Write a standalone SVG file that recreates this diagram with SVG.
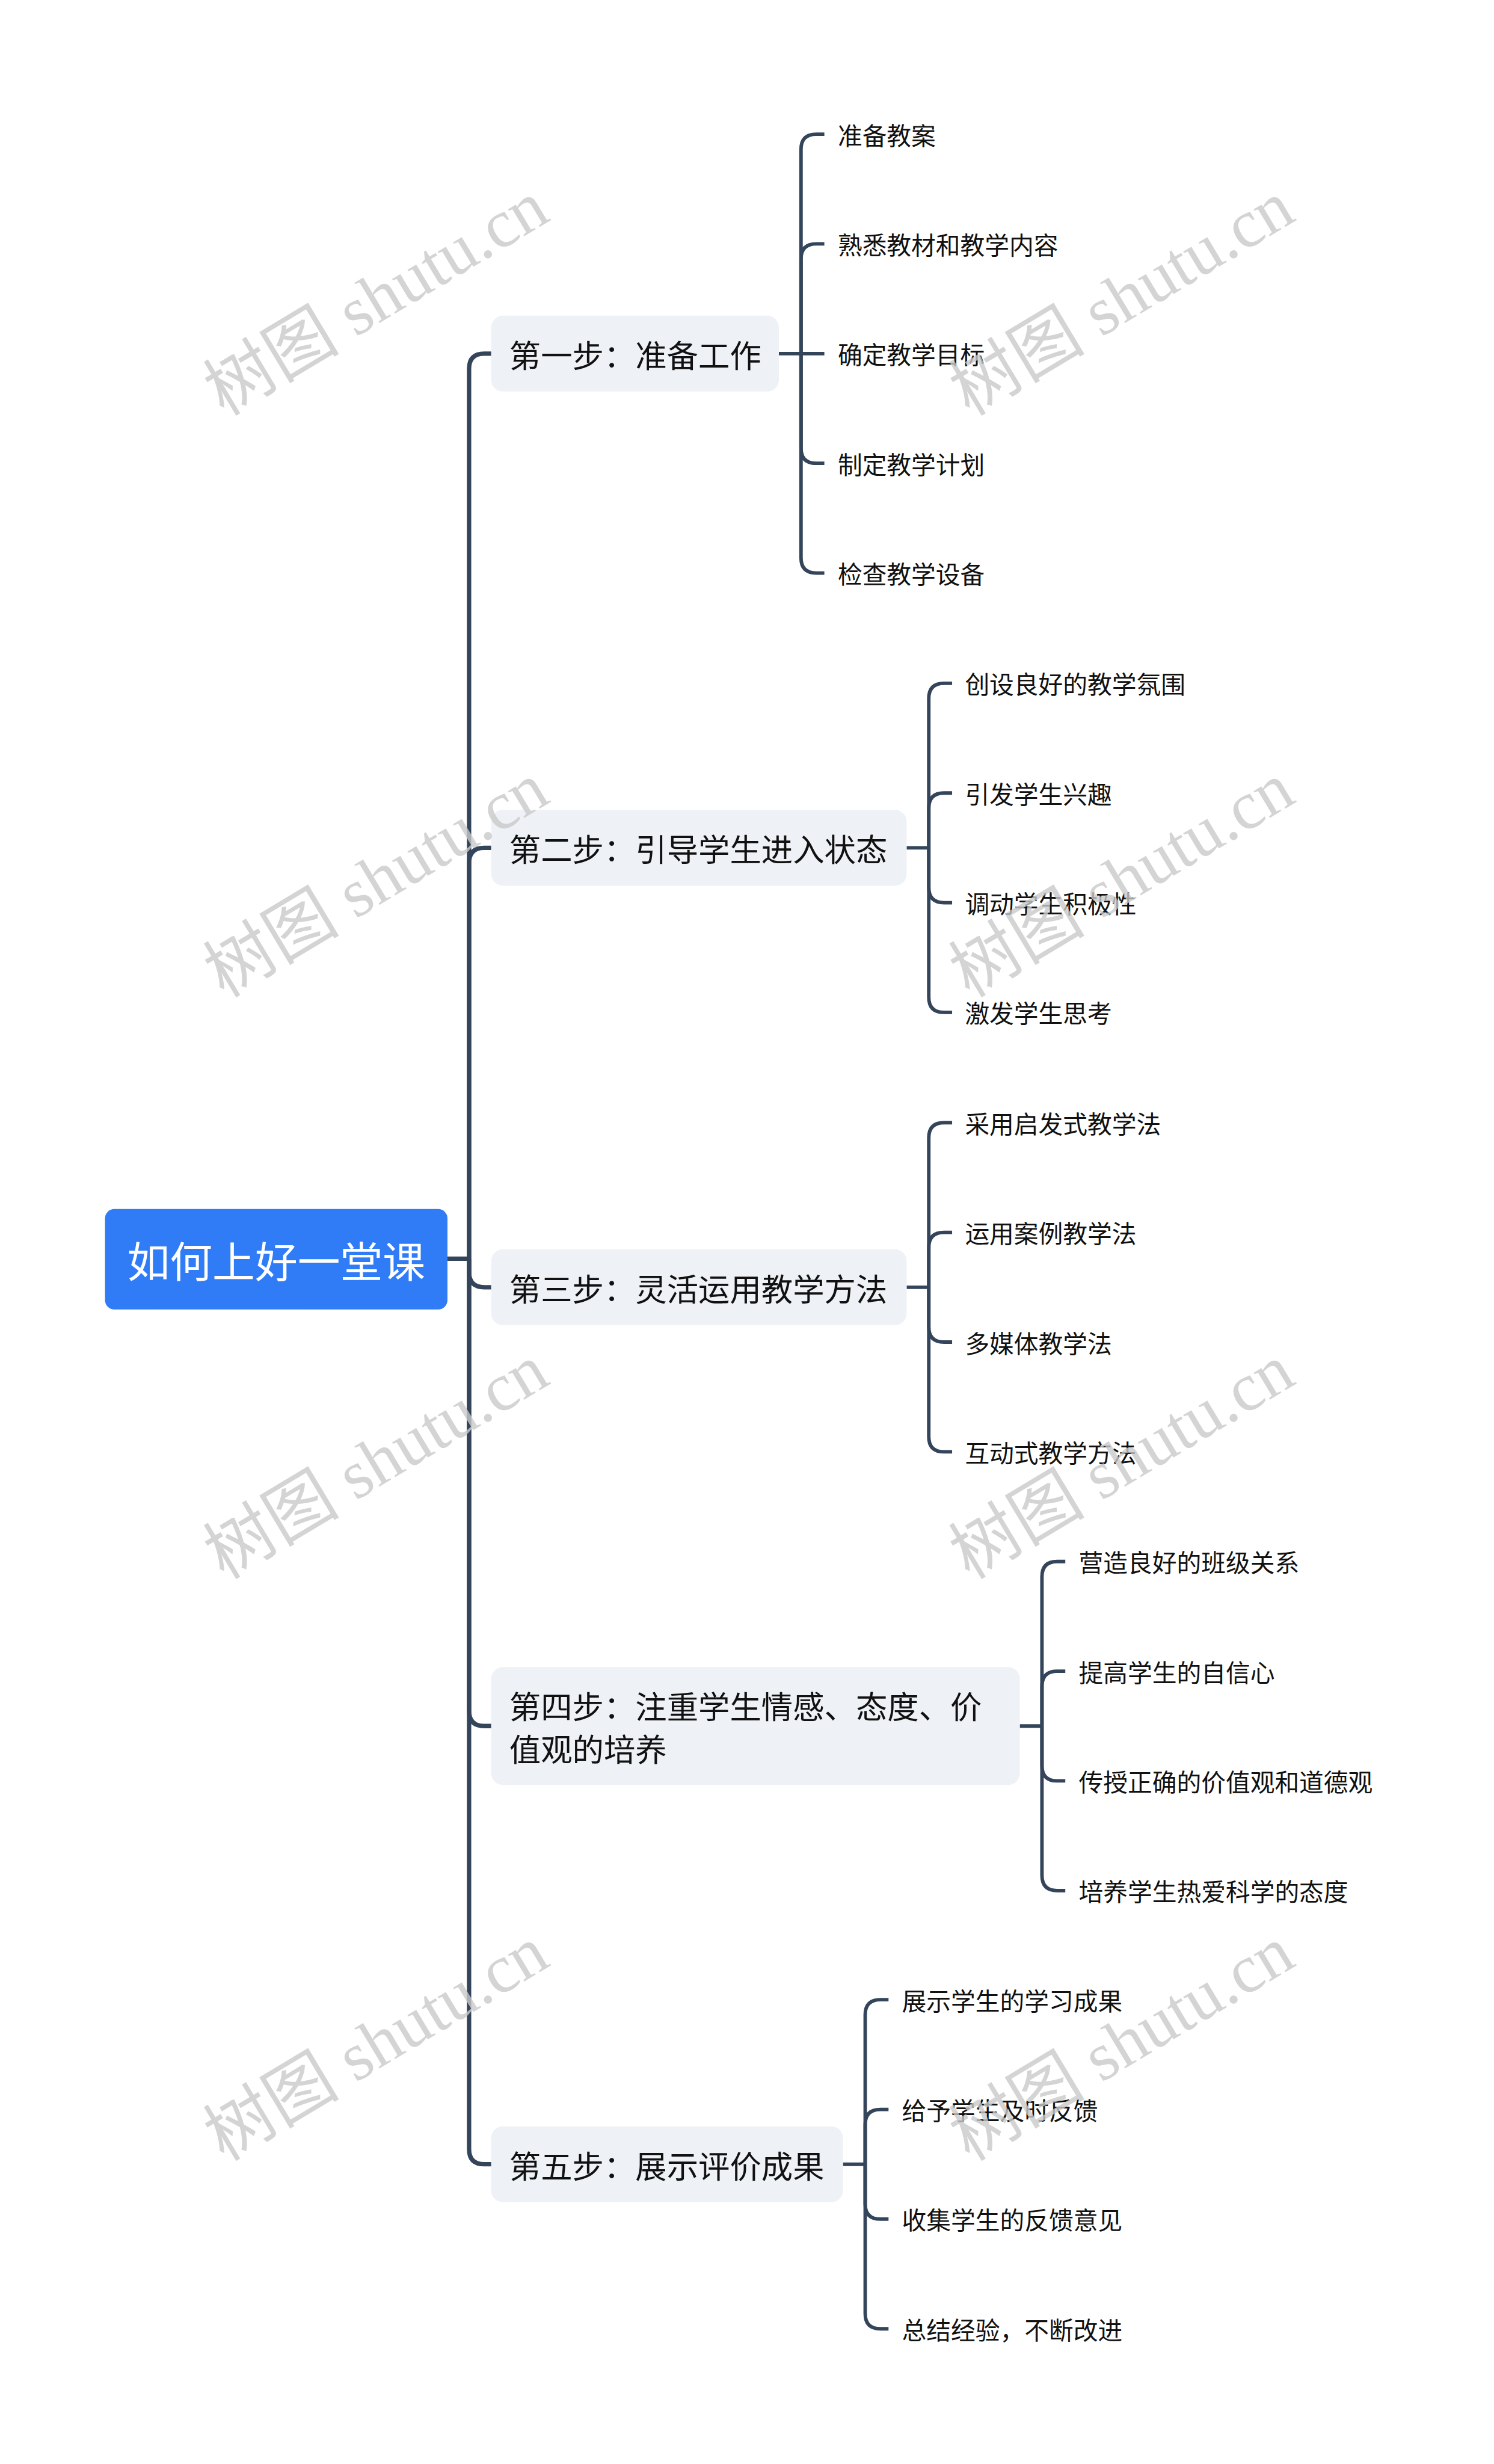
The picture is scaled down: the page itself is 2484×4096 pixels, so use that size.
<svg xmlns="http://www.w3.org/2000/svg" width="2484" height="4096" viewBox="0 0 2484 4096">
<style>
.cn{fill:none;stroke:#34455b;stroke-linecap:butt;stroke-linejoin:round}
.tr{stroke-width:7.5}
.ch{stroke-width:6}
.step{fill:#eef1f5}
.st{font-family:"Noto Sans CJK SC","Noto Sans",sans-serif;font-size:54px;fill:#111;dominant-baseline:central}
.lf{font-family:"Noto Sans CJK SC","Noto Sans",sans-serif;font-size:42px;fill:#111;dominant-baseline:central}
.wm{font-family:"Liberation Serif","Noto Sans CJK SC",serif;font-size:117px;fill:#c9c9c9;fill-opacity:0.8;text-anchor:middle}
</style>
<rect width="2484" height="4096" fill="#ffffff"/>
<g transform="scale(0.97)">
<g id="connectors">
<path class="cn tr" d="M767,2157 H804"/>
<path class="cn tr" d="M804,2157 V632 Q804,606 830,606 H842"/>
<path class="cn tr" d="M804,2157 V1479 Q804,1453 830,1453 H842"/>
<path class="cn tr" d="M804,2157 V2180 Q804,2206 830,2206 H842"/>
<path class="cn tr" d="M804,2157 V2932 Q804,2958 830,2958 H842"/>
<path class="cn tr" d="M804,2157 V3683 Q804,3709 830,3709 H842"/>
<path class="cn ch" d="M1335,606 H1373"/>
<path class="cn ch" d="M1373,606 V256 Q1373,230 1399,230 H1413"/>
<path class="cn ch" d="M1373,606 V444 Q1373,418 1399,418 H1413"/>
<path class="cn ch" d="M1373,606 H1413"/>
<path class="cn ch" d="M1373,606 V768 Q1373,794 1399,794 H1413"/>
<path class="cn ch" d="M1373,606 V956 Q1373,982 1399,982 H1413"/>
<path class="cn ch" d="M1554,1453 H1592"/>
<path class="cn ch" d="M1592,1453 V1197 Q1592,1171 1618,1171 H1632"/>
<path class="cn ch" d="M1592,1453 V1385 Q1592,1359 1618,1359 H1632"/>
<path class="cn ch" d="M1592,1453 V1521 Q1592,1547 1618,1547 H1632"/>
<path class="cn ch" d="M1592,1453 V1709 Q1592,1735 1618,1735 H1632"/>
<path class="cn ch" d="M1554,2206 H1592"/>
<path class="cn ch" d="M1592,2206 V1950 Q1592,1924 1618,1924 H1632"/>
<path class="cn ch" d="M1592,2206 V2138 Q1592,2112 1618,2112 H1632"/>
<path class="cn ch" d="M1592,2206 V2274 Q1592,2300 1618,2300 H1632"/>
<path class="cn ch" d="M1592,2206 V2462 Q1592,2488 1618,2488 H1632"/>
<path class="cn ch" d="M1748,2958 H1786"/>
<path class="cn ch" d="M1786,2958 V2702 Q1786,2676 1812,2676 H1826"/>
<path class="cn ch" d="M1786,2958 V2890 Q1786,2864 1812,2864 H1826"/>
<path class="cn ch" d="M1786,2958 V3026 Q1786,3052 1812,3052 H1826"/>
<path class="cn ch" d="M1786,2958 V3214 Q1786,3240 1812,3240 H1826"/>
<path class="cn ch" d="M1445,3709 H1483"/>
<path class="cn ch" d="M1483,3709 V3453 Q1483,3427 1509,3427 H1523"/>
<path class="cn ch" d="M1483,3709 V3641 Q1483,3615 1509,3615 H1523"/>
<path class="cn ch" d="M1483,3709 V3777 Q1483,3803 1509,3803 H1523"/>
<path class="cn ch" d="M1483,3709 V3965 Q1483,3991 1509,3991 H1523"/>
</g>
<g id="root">
<rect x="180" y="2072" width="587" height="172" rx="16" fill="#2f7cf6"/>
<text x="473.5" y="2158" text-anchor="middle" font-family="Noto Sans CJK SC, Noto Sans, sans-serif" font-size="73" fill="#ffffff" dominant-baseline="central">如何上好一堂课</text>
</g>
<g id="step1"><rect class="step" x="842" y="541" width="493" height="130" rx="20"/><text class="st" x="873" y="606">第一步：准备工作</text></g>
<g id="step2"><rect class="step" x="842" y="1388" width="712" height="130" rx="20"/><text class="st" x="873" y="1453">第二步：引导学生进入状态</text></g>
<g id="step3"><rect class="step" x="842" y="2141" width="712" height="130" rx="20"/><text class="st" x="873" y="2206">第三步：灵活运用教学方法</text></g>
<g id="step4"><rect class="step" x="842" y="2857" width="906" height="202" rx="20"/><text class="st" x="873" y="2922">第四步：注重学生情感、态度、价</text><text class="st" x="873" y="2995">值观的培养</text></g>
<g id="step5"><rect class="step" x="842" y="3644" width="603" height="130" rx="20"/><text class="st" x="873" y="3709">第五步：展示评价成果</text></g>
<g id="s1c1"><text class="lf" x="1436" y="230">准备教案</text></g>
<g id="s1c2"><text class="lf" x="1436" y="418">熟悉教材和教学内容</text></g>
<g id="s1c3"><text class="lf" x="1436" y="606">确定教学目标</text></g>
<g id="s1c4"><text class="lf" x="1436" y="794">制定教学计划</text></g>
<g id="s1c5"><text class="lf" x="1436" y="982">检查教学设备</text></g>
<g id="s2c1"><text class="lf" x="1654" y="1171">创设良好的教学氛围</text></g>
<g id="s2c2"><text class="lf" x="1654" y="1359">引发学生兴趣</text></g>
<g id="s2c3"><text class="lf" x="1654" y="1547">调动学生积极性</text></g>
<g id="s2c4"><text class="lf" x="1654" y="1735">激发学生思考</text></g>
<g id="s3c1"><text class="lf" x="1654" y="1924">采用启发式教学法</text></g>
<g id="s3c2"><text class="lf" x="1654" y="2112">运用案例教学法</text></g>
<g id="s3c3"><text class="lf" x="1654" y="2300">多媒体教学法</text></g>
<g id="s3c4"><text class="lf" x="1654" y="2488">互动式教学方法</text></g>
<g id="s4c1"><text class="lf" x="1849" y="2676">营造良好的班级关系</text></g>
<g id="s4c2"><text class="lf" x="1849" y="2864">提高学生的自信心</text></g>
<g id="s4c3"><text class="lf" x="1849" y="3052">传授正确的价值观和道德观</text></g>
<g id="s4c4"><text class="lf" x="1849" y="3240">培养学生热爱科学的态度</text></g>
<g id="s5c1"><text class="lf" x="1546" y="3427">展示学生的学习成果</text></g>
<g id="s5c2"><text class="lf" x="1546" y="3615">给予学生及时反馈</text></g>
<g id="s5c3"><text class="lf" x="1546" y="3803">收集学生的反馈意见</text></g>
<g id="s5c4"><text class="lf" x="1546" y="3991">总结经验，不断改进</text></g>
<g id="watermarks">
<text class="wm" transform="translate(665,545) rotate(-31)">树图 shutu.cn</text>
<text class="wm" transform="translate(1943,545) rotate(-31)">树图 shutu.cn</text>
<text class="wm" transform="translate(665,1542) rotate(-31)">树图 shutu.cn</text>
<text class="wm" transform="translate(1943,1542) rotate(-31)">树图 shutu.cn</text>
<text class="wm" transform="translate(665,2539) rotate(-31)">树图 shutu.cn</text>
<text class="wm" transform="translate(1943,2539) rotate(-31)">树图 shutu.cn</text>
<text class="wm" transform="translate(665,3536) rotate(-31)">树图 shutu.cn</text>
<text class="wm" transform="translate(1943,3536) rotate(-31)">树图 shutu.cn</text>
</g>
</g>
</svg>
